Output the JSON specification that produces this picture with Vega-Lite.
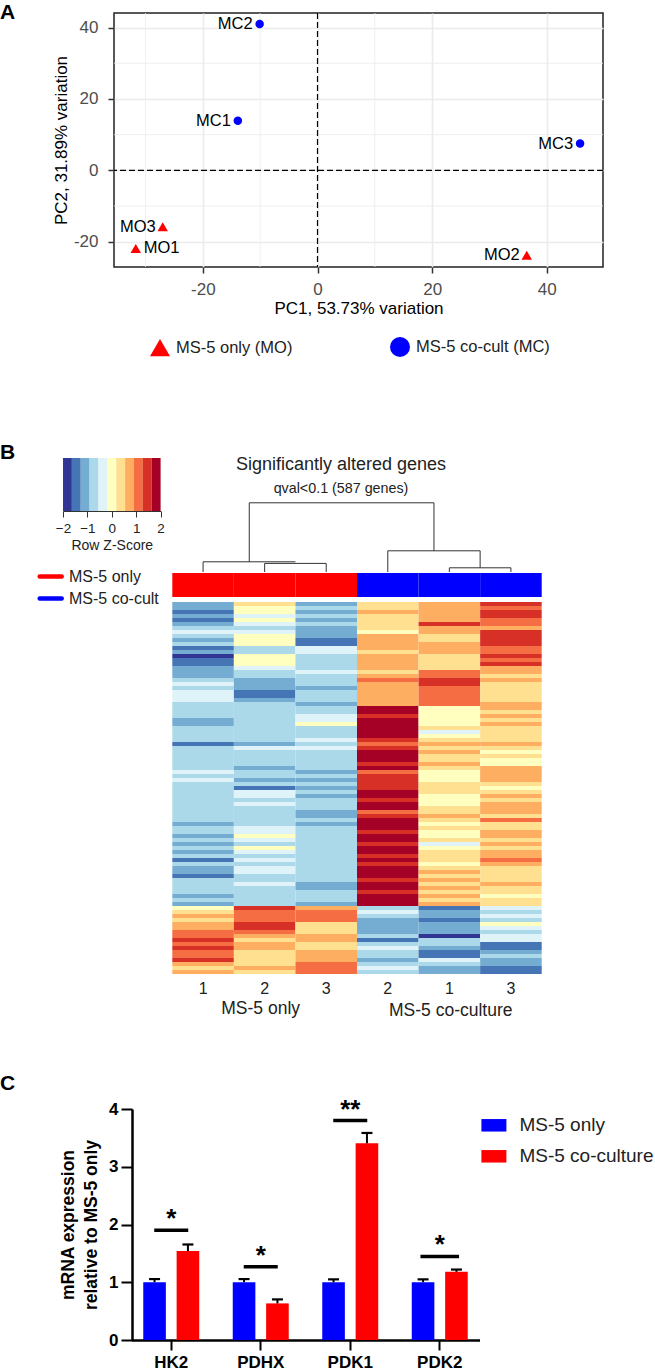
{
"$schema":"https://vega.github.io/schema/vega-lite/v6.json",
"padding":0,
"config":{"view":{"stroke":null},"font":"Liberation Sans","text":{"font":"Liberation Sans"}},
"datasets":{
"pca":[{"id":"MC2","pc1":-10.1,"pc2":41,"group":"MS-5 co-cult (MC)"},{"id":"MC1","pc1":-13.9,"pc2":13.9,"group":"MS-5 co-cult (MC)"},{"id":"MC3","pc1":45.8,"pc2":7.5,"group":"MS-5 co-cult (MC)"},{"id":"MO3","pc1":-27,"pc2":-15.8,"group":"MS-5 only (MO)"},{"id":"MO1","pc1":-31.7,"pc2":-21.9,"group":"MS-5 only (MO)"},{"id":"MO2","pc1":36.5,"pc2":-23.8,"group":"MS-5 only (MO)"}],
"minor":[{"gx":-30,"gy":-10},{"gx":-10,"gy":10},{"gx":10,"gy":30}],
"scale":[{"lo":-2,"hi":-1.636,"z":-1.8},{"lo":-1.636,"hi":-1.273,"z":-1.45},{"lo":-1.273,"hi":-0.909,"z":-1.1},{"lo":-0.909,"hi":-0.545,"z":-0.73},{"lo":-0.545,"hi":-0.182,"z":-0.36},{"lo":-0.182,"hi":0.182,"z":0},{"lo":0.182,"hi":0.545,"z":0.36},{"lo":0.545,"hi":0.909,"z":0.73},{"lo":0.909,"hi":1.273,"z":1.1},{"lo":1.273,"hi":1.636,"z":1.45},{"lo":1.636,"hi":2,"z":1.8}],
"dendro":[{"x":1.25,"x2":4.25,"y":69.2,"y2":69.2},{"x":1.25,"x2":1.25,"y":69.2,"y2":10.2},{"x":0.5,"x2":2,"y":10.2,"y2":10.2},{"x":0.5,"x2":0.5,"y":10.2,"y2":0},{"x":1.5,"x2":2.5,"y":8.6,"y2":8.6},{"x":1.5,"x2":1.5,"y":8.6,"y2":0},{"x":2.5,"x2":2.5,"y":8.6,"y2":0},{"x":4.25,"x2":4.25,"y":69.2,"y2":21.2},{"x":3.5,"x2":5,"y":21.2,"y2":21.2},{"x":3.5,"x2":3.5,"y":21.2,"y2":0},{"x":5,"x2":5,"y":21.2,"y2":4.2},{"x":4.5,"x2":5.5,"y":4.2,"y2":4.2},{"x":4.5,"x2":4.5,"y":4.2,"y2":0},{"x":5.5,"x2":5.5,"y":4.2,"y2":0}],
"annot":[{"s":"MO1","c":"MS-5 only"},{"s":"MO2","c":"MS-5 only"},{"s":"MO3","c":"MS-5 only"},{"s":"MC2","c":"MS-5 co-cult"},{"s":"MC1","c":"MS-5 co-cult"},{"s":"MC3","c":"MS-5 co-cult"}],
"heat":[
{"g":0,"s":"MO1","z":-1.1},{"g":1,"s":"MO1","z":-1.1},{"g":2,"s":"MO1","z":-1.4},{"g":3,"s":"MO1","z":-1.1},{"g":4,"s":"MO1","z":-1.4},{"g":5,"s":"MO1","z":-1.1},{"g":6,"s":"MO1","z":-0.7},{"g":7,"s":"MO1","z":-0.4},{"g":8,"s":"MO1","z":-0.7},{"g":9,"s":"MO1","z":-1.1},{"g":10,"s":"MO1","z":-0.7},{"g":11,"s":"MO1","z":-1.4},{"g":12,"s":"MO1","z":-1.1},{"g":13,"s":"MO1","z":-1.8},{"g":14,"s":"MO1","z":-1.4},{"g":15,"s":"MO1","z":-1.4},{"g":16,"s":"MO1","z":-1.1},{"g":17,"s":"MO1","z":-1.1},{"g":18,"s":"MO1","z":-1.1},{"g":19,"s":"MO1","z":-0.7},{"g":20,"s":"MO1","z":-0.4},{"g":21,"s":"MO1","z":-0.7},{"g":22,"s":"MO1","z":-0.4},{"g":23,"s":"MO1","z":-0.4},{"g":24,"s":"MO1","z":-0.4},{"g":25,"s":"MO1","z":-0.7},
{"g":26,"s":"MO1","z":-0.7},{"g":27,"s":"MO1","z":-0.7},{"g":28,"s":"MO1","z":-0.7},{"g":29,"s":"MO1","z":-1.1},{"g":30,"s":"MO1","z":-1.1},{"g":31,"s":"MO1","z":-0.7},{"g":32,"s":"MO1","z":-0.7},{"g":33,"s":"MO1","z":-0.7},{"g":34,"s":"MO1","z":-0.7},{"g":35,"s":"MO1","z":-1.4},{"g":36,"s":"MO1","z":-0.7},{"g":37,"s":"MO1","z":-0.7},{"g":38,"s":"MO1","z":-0.7},{"g":39,"s":"MO1","z":-0.7},{"g":40,"s":"MO1","z":-0.7},{"g":41,"s":"MO1","z":-0.7},{"g":42,"s":"MO1","z":-0.4},{"g":43,"s":"MO1","z":-0.7},{"g":44,"s":"MO1","z":-0.4},{"g":45,"s":"MO1","z":-0.7},{"g":46,"s":"MO1","z":-0.7},{"g":47,"s":"MO1","z":-0.7},{"g":48,"s":"MO1","z":-0.7},{"g":49,"s":"MO1","z":-0.7},{"g":50,"s":"MO1","z":-0.7},{"g":51,"s":"MO1","z":-0.7},{"g":52,"s":"MO1","z":-0.7},{"g":53,"s":"MO1","z":-0.7},{"g":54,"s":"MO1","z":-0.7},{"g":55,"s":"MO1","z":-1.1},{"g":56,"s":"MO1","z":-0.7},{"g":57,"s":"MO1","z":-0.7},{"g":58,"s":"MO1","z":-1.1},{"g":59,"s":"MO1","z":-0.7},{"g":60,"s":"MO1","z":-1.1},{"g":61,"s":"MO1","z":-0.7},{"g":62,"s":"MO1","z":-1.1},{"g":63,"s":"MO1","z":-0.7},{"g":64,"s":"MO1","z":-1.4},{"g":65,"s":"MO1","z":-0.7},{"g":66,"s":"MO1","z":-1.1},{"g":67,"s":"MO1","z":-1.1},{"g":68,"s":"MO1","z":-1.4},{"g":69,"s":"MO1","z":-0.7},{"g":70,"s":"MO1","z":-0.7},{"g":71,"s":"MO1","z":-0.7},{"g":72,"s":"MO1","z":-0.7},{"g":73,"s":"MO1","z":-1.1},{"g":74,"s":"MO1","z":-0.7},{"g":75,"s":"MO1","z":-1.1},
{"g":76,"s":"MO1","z":0},{"g":77,"s":"MO1","z":0.4},{"g":78,"s":"MO1","z":0.7},{"g":79,"s":"MO1","z":0.4},{"g":80,"s":"MO1","z":0.7},{"g":81,"s":"MO1","z":0.7},{"g":82,"s":"MO1","z":1.1},{"g":83,"s":"MO1","z":1.1},{"g":84,"s":"MO1","z":1.4},{"g":85,"s":"MO1","z":1.1},{"g":86,"s":"MO1","z":1.4},{"g":87,"s":"MO1","z":1.1},{"g":88,"s":"MO1","z":1.1},{"g":89,"s":"MO1","z":1.4},{"g":90,"s":"MO1","z":0.7},{"g":91,"s":"MO1","z":0.4},{"g":92,"s":"MO1","z":0.7},
{"g":0,"s":"MO2","z":0.4},{"g":1,"s":"MO2","z":0},{"g":2,"s":"MO2","z":0},{"g":3,"s":"MO2","z":-0.4},{"g":4,"s":"MO2","z":0},{"g":5,"s":"MO2","z":-0.4},{"g":6,"s":"MO2","z":-0.7},{"g":7,"s":"MO2","z":-0.4},{"g":8,"s":"MO2","z":0},{"g":9,"s":"MO2","z":0},{"g":10,"s":"MO2","z":0},{"g":11,"s":"MO2","z":-0.7},{"g":12,"s":"MO2","z":-0.7},{"g":13,"s":"MO2","z":0},{"g":14,"s":"MO2","z":0},{"g":15,"s":"MO2","z":0},{"g":16,"s":"MO2","z":-0.4},{"g":17,"s":"MO2","z":-0.7},{"g":18,"s":"MO2","z":-0.7},{"g":19,"s":"MO2","z":-1.1},{"g":20,"s":"MO2","z":-1.1},{"g":21,"s":"MO2","z":-1.1},{"g":22,"s":"MO2","z":-1.4},{"g":23,"s":"MO2","z":-1.4},{"g":24,"s":"MO2","z":-1.1},{"g":25,"s":"MO2","z":-0.7},
{"g":26,"s":"MO2","z":-0.7},{"g":27,"s":"MO2","z":-0.7},{"g":28,"s":"MO2","z":-0.7},{"g":29,"s":"MO2","z":-0.7},{"g":30,"s":"MO2","z":-0.7},{"g":31,"s":"MO2","z":-0.7},{"g":32,"s":"MO2","z":-0.7},{"g":33,"s":"MO2","z":-0.7},{"g":34,"s":"MO2","z":-0.7},{"g":35,"s":"MO2","z":-1.1},{"g":36,"s":"MO2","z":-0.4},{"g":37,"s":"MO2","z":-0.7},{"g":38,"s":"MO2","z":-0.7},{"g":39,"s":"MO2","z":-0.7},{"g":40,"s":"MO2","z":-0.7},{"g":41,"s":"MO2","z":-1.1},{"g":42,"s":"MO2","z":-0.7},{"g":43,"s":"MO2","z":-0.7},{"g":44,"s":"MO2","z":-1.1},{"g":45,"s":"MO2","z":-0.7},{"g":46,"s":"MO2","z":-1.4},{"g":47,"s":"MO2","z":-0.4},{"g":48,"s":"MO2","z":-0.4},{"g":49,"s":"MO2","z":-0.7},{"g":50,"s":"MO2","z":-0.4},{"g":51,"s":"MO2","z":-0.7},{"g":52,"s":"MO2","z":-0.7},{"g":53,"s":"MO2","z":-0.7},{"g":54,"s":"MO2","z":-0.7},{"g":55,"s":"MO2","z":-0.7},{"g":56,"s":"MO2","z":-0.4},{"g":57,"s":"MO2","z":-0.4},{"g":58,"s":"MO2","z":0},{"g":59,"s":"MO2","z":-0.4},{"g":60,"s":"MO2","z":-0.7},{"g":61,"s":"MO2","z":0},{"g":62,"s":"MO2","z":-0.4},{"g":63,"s":"MO2","z":-0.7},{"g":64,"s":"MO2","z":-0.4},{"g":65,"s":"MO2","z":-0.7},{"g":66,"s":"MO2","z":-0.4},{"g":67,"s":"MO2","z":-0.4},{"g":68,"s":"MO2","z":-0.7},{"g":69,"s":"MO2","z":-0.7},{"g":70,"s":"MO2","z":-0.4},{"g":71,"s":"MO2","z":-0.7},{"g":72,"s":"MO2","z":-0.7},{"g":73,"s":"MO2","z":-0.7},{"g":74,"s":"MO2","z":-0.7},{"g":75,"s":"MO2","z":-0.7},
{"g":76,"s":"MO2","z":1.4},{"g":77,"s":"MO2","z":1.1},{"g":78,"s":"MO2","z":1.1},{"g":79,"s":"MO2","z":1.1},{"g":80,"s":"MO2","z":1.4},{"g":81,"s":"MO2","z":1.4},{"g":82,"s":"MO2","z":1.1},{"g":83,"s":"MO2","z":0.7},{"g":84,"s":"MO2","z":0.4},{"g":85,"s":"MO2","z":0.7},{"g":86,"s":"MO2","z":0.7},{"g":87,"s":"MO2","z":0.4},{"g":88,"s":"MO2","z":0.4},{"g":89,"s":"MO2","z":0.4},{"g":90,"s":"MO2","z":0.4},{"g":91,"s":"MO2","z":0.7},{"g":92,"s":"MO2","z":0.4},
{"g":0,"s":"MO3","z":-1.1},{"g":1,"s":"MO3","z":-0.7},{"g":2,"s":"MO3","z":-1.1},{"g":3,"s":"MO3","z":-0.7},{"g":4,"s":"MO3","z":-1.1},{"g":5,"s":"MO3","z":-0.7},{"g":6,"s":"MO3","z":-1.1},{"g":7,"s":"MO3","z":-1.1},{"g":8,"s":"MO3","z":-1.1},{"g":9,"s":"MO3","z":-1.4},{"g":10,"s":"MO3","z":-1.4},{"g":11,"s":"MO3","z":-0.4},{"g":12,"s":"MO3","z":-0.4},{"g":13,"s":"MO3","z":-0.7},{"g":14,"s":"MO3","z":-0.7},{"g":15,"s":"MO3","z":-0.7},{"g":16,"s":"MO3","z":-0.7},{"g":17,"s":"MO3","z":-0.4},{"g":18,"s":"MO3","z":-0.7},{"g":19,"s":"MO3","z":-0.7},{"g":20,"s":"MO3","z":-0.7},{"g":21,"s":"MO3","z":-1.1},{"g":22,"s":"MO3","z":-0.7},{"g":23,"s":"MO3","z":-0.7},{"g":24,"s":"MO3","z":-0.7},{"g":25,"s":"MO3","z":-1.1},
{"g":26,"s":"MO3","z":-0.7},{"g":27,"s":"MO3","z":-0.7},{"g":28,"s":"MO3","z":-0.4},{"g":29,"s":"MO3","z":-0.4},{"g":30,"s":"MO3","z":0},{"g":31,"s":"MO3","z":-0.7},{"g":32,"s":"MO3","z":-0.7},{"g":33,"s":"MO3","z":-0.7},{"g":34,"s":"MO3","z":-0.4},{"g":35,"s":"MO3","z":-0.7},{"g":36,"s":"MO3","z":-0.4},{"g":37,"s":"MO3","z":-0.7},{"g":38,"s":"MO3","z":-0.7},{"g":39,"s":"MO3","z":-0.7},{"g":40,"s":"MO3","z":-0.7},{"g":41,"s":"MO3","z":-0.7},{"g":42,"s":"MO3","z":-1.1},{"g":43,"s":"MO3","z":-0.7},{"g":44,"s":"MO3","z":-1.1},{"g":45,"s":"MO3","z":-0.7},{"g":46,"s":"MO3","z":-1.1},{"g":47,"s":"MO3","z":-0.7},{"g":48,"s":"MO3","z":-1.1},{"g":49,"s":"MO3","z":-0.7},{"g":50,"s":"MO3","z":-0.7},{"g":51,"s":"MO3","z":-0.7},{"g":52,"s":"MO3","z":-1.1},{"g":53,"s":"MO3","z":-1.1},{"g":54,"s":"MO3","z":-0.7},{"g":55,"s":"MO3","z":-1.1},{"g":56,"s":"MO3","z":-0.7},{"g":57,"s":"MO3","z":-0.7},{"g":58,"s":"MO3","z":-0.7},{"g":59,"s":"MO3","z":-0.7},{"g":60,"s":"MO3","z":-0.7},{"g":61,"s":"MO3","z":-0.7},{"g":62,"s":"MO3","z":-0.7},{"g":63,"s":"MO3","z":-0.7},{"g":64,"s":"MO3","z":-0.7},{"g":65,"s":"MO3","z":-0.7},{"g":66,"s":"MO3","z":-0.7},{"g":67,"s":"MO3","z":-0.7},{"g":68,"s":"MO3","z":-0.7},{"g":69,"s":"MO3","z":-0.7},{"g":70,"s":"MO3","z":-1.1},{"g":71,"s":"MO3","z":-1.1},{"g":72,"s":"MO3","z":-0.7},{"g":73,"s":"MO3","z":-0.7},{"g":74,"s":"MO3","z":-0.7},{"g":75,"s":"MO3","z":-1.1},
{"g":76,"s":"MO3","z":0.7},{"g":77,"s":"MO3","z":1.1},{"g":78,"s":"MO3","z":1.1},{"g":79,"s":"MO3","z":1.1},{"g":80,"s":"MO3","z":0.4},{"g":81,"s":"MO3","z":0.4},{"g":82,"s":"MO3","z":0.4},{"g":83,"s":"MO3","z":0.7},{"g":84,"s":"MO3","z":0.7},{"g":85,"s":"MO3","z":0.4},{"g":86,"s":"MO3","z":0.4},{"g":87,"s":"MO3","z":0.7},{"g":88,"s":"MO3","z":0.7},{"g":89,"s":"MO3","z":0.7},{"g":90,"s":"MO3","z":1.1},{"g":91,"s":"MO3","z":1.1},{"g":92,"s":"MO3","z":1.1},
{"g":0,"s":"MC2","z":0.4},{"g":1,"s":"MC2","z":0.4},{"g":2,"s":"MC2","z":0.7},{"g":3,"s":"MC2","z":0.4},{"g":4,"s":"MC2","z":0.4},{"g":5,"s":"MC2","z":0.4},{"g":6,"s":"MC2","z":0.4},{"g":7,"s":"MC2","z":0},{"g":8,"s":"MC2","z":0.7},{"g":9,"s":"MC2","z":0.7},{"g":10,"s":"MC2","z":0.7},{"g":11,"s":"MC2","z":0.7},{"g":12,"s":"MC2","z":0.4},{"g":13,"s":"MC2","z":0.7},{"g":14,"s":"MC2","z":0.7},{"g":15,"s":"MC2","z":0.7},{"g":16,"s":"MC2","z":0.7},{"g":17,"s":"MC2","z":0.4},{"g":18,"s":"MC2","z":0.7},{"g":19,"s":"MC2","z":1.1},{"g":20,"s":"MC2","z":0.7},{"g":21,"s":"MC2","z":0.7},{"g":22,"s":"MC2","z":0.7},{"g":23,"s":"MC2","z":0.7},{"g":24,"s":"MC2","z":0.7},{"g":25,"s":"MC2","z":0.7},
{"g":26,"s":"MC2","z":1.8},{"g":27,"s":"MC2","z":1.8},{"g":28,"s":"MC2","z":1.4},{"g":29,"s":"MC2","z":1.8},{"g":30,"s":"MC2","z":1.8},{"g":31,"s":"MC2","z":1.8},{"g":32,"s":"MC2","z":1.8},{"g":33,"s":"MC2","z":1.8},{"g":34,"s":"MC2","z":1.4},{"g":35,"s":"MC2","z":1.1},{"g":36,"s":"MC2","z":1.4},{"g":37,"s":"MC2","z":1.8},{"g":38,"s":"MC2","z":1.8},{"g":39,"s":"MC2","z":1.8},{"g":40,"s":"MC2","z":1.4},{"g":41,"s":"MC2","z":1.8},{"g":42,"s":"MC2","z":1.1},{"g":43,"s":"MC2","z":1.4},{"g":44,"s":"MC2","z":1.4},{"g":45,"s":"MC2","z":1.4},{"g":46,"s":"MC2","z":1.4},{"g":47,"s":"MC2","z":1.8},{"g":48,"s":"MC2","z":1.8},{"g":49,"s":"MC2","z":1.4},{"g":50,"s":"MC2","z":1.8},{"g":51,"s":"MC2","z":1.8},{"g":52,"s":"MC2","z":1.1},{"g":53,"s":"MC2","z":1.4},{"g":54,"s":"MC2","z":1.8},{"g":55,"s":"MC2","z":1.8},{"g":56,"s":"MC2","z":1.8},{"g":57,"s":"MC2","z":1.4},{"g":58,"s":"MC2","z":1.8},{"g":59,"s":"MC2","z":1.8},{"g":60,"s":"MC2","z":1.4},{"g":61,"s":"MC2","z":1.8},{"g":62,"s":"MC2","z":1.8},{"g":63,"s":"MC2","z":1.4},{"g":64,"s":"MC2","z":1.8},{"g":65,"s":"MC2","z":1.4},{"g":66,"s":"MC2","z":1.8},{"g":67,"s":"MC2","z":1.8},{"g":68,"s":"MC2","z":1.8},{"g":69,"s":"MC2","z":1.4},{"g":70,"s":"MC2","z":1.8},{"g":71,"s":"MC2","z":1.8},{"g":72,"s":"MC2","z":1.4},{"g":73,"s":"MC2","z":1.8},{"g":74,"s":"MC2","z":1.8},{"g":75,"s":"MC2","z":1.8},
{"g":76,"s":"MC2","z":-0.7},{"g":77,"s":"MC2","z":-0.4},{"g":78,"s":"MC2","z":-0.7},{"g":79,"s":"MC2","z":-1.1},{"g":80,"s":"MC2","z":-1.1},{"g":81,"s":"MC2","z":-1.1},{"g":82,"s":"MC2","z":-1.1},{"g":83,"s":"MC2","z":-0.7},{"g":84,"s":"MC2","z":-1.4},{"g":85,"s":"MC2","z":-0.7},{"g":86,"s":"MC2","z":-0.4},{"g":87,"s":"MC2","z":-0.7},{"g":88,"s":"MC2","z":-0.7},{"g":89,"s":"MC2","z":-1.1},{"g":90,"s":"MC2","z":-0.7},{"g":91,"s":"MC2","z":-0.4},{"g":92,"s":"MC2","z":-0.7},
{"g":0,"s":"MC1","z":0.7},{"g":1,"s":"MC1","z":0.7},{"g":2,"s":"MC1","z":0.7},{"g":3,"s":"MC1","z":0.7},{"g":4,"s":"MC1","z":0.7},{"g":5,"s":"MC1","z":1.4},{"g":6,"s":"MC1","z":0.7},{"g":7,"s":"MC1","z":0.7},{"g":8,"s":"MC1","z":0.4},{"g":9,"s":"MC1","z":0.4},{"g":10,"s":"MC1","z":0.7},{"g":11,"s":"MC1","z":0.7},{"g":12,"s":"MC1","z":0.7},{"g":13,"s":"MC1","z":0.4},{"g":14,"s":"MC1","z":0.4},{"g":15,"s":"MC1","z":0.4},{"g":16,"s":"MC1","z":0.4},{"g":17,"s":"MC1","z":1.1},{"g":18,"s":"MC1","z":1.1},{"g":19,"s":"MC1","z":1.4},{"g":20,"s":"MC1","z":1.4},{"g":21,"s":"MC1","z":1.1},{"g":22,"s":"MC1","z":1.1},{"g":23,"s":"MC1","z":1.1},{"g":24,"s":"MC1","z":1.1},{"g":25,"s":"MC1","z":1.1},
{"g":26,"s":"MC1","z":0},{"g":27,"s":"MC1","z":0},{"g":28,"s":"MC1","z":0},{"g":29,"s":"MC1","z":0},{"g":30,"s":"MC1","z":0},{"g":31,"s":"MC1","z":0.4},{"g":32,"s":"MC1","z":-0.4},{"g":33,"s":"MC1","z":0},{"g":34,"s":"MC1","z":0.4},{"g":35,"s":"MC1","z":0.7},{"g":36,"s":"MC1","z":0.4},{"g":37,"s":"MC1","z":0.7},{"g":38,"s":"MC1","z":0.4},{"g":39,"s":"MC1","z":0.4},{"g":40,"s":"MC1","z":0.7},{"g":41,"s":"MC1","z":0.4},{"g":42,"s":"MC1","z":0},{"g":43,"s":"MC1","z":0},{"g":44,"s":"MC1","z":0},{"g":45,"s":"MC1","z":0.4},{"g":46,"s":"MC1","z":0.4},{"g":47,"s":"MC1","z":0.4},{"g":48,"s":"MC1","z":0},{"g":49,"s":"MC1","z":0},{"g":50,"s":"MC1","z":0},{"g":51,"s":"MC1","z":0.4},{"g":52,"s":"MC1","z":0.4},{"g":53,"s":"MC1","z":0.7},{"g":54,"s":"MC1","z":0.4},{"g":55,"s":"MC1","z":0},{"g":56,"s":"MC1","z":0.4},{"g":57,"s":"MC1","z":0},{"g":58,"s":"MC1","z":0},{"g":59,"s":"MC1","z":0.4},{"g":60,"s":"MC1","z":-0.4},{"g":61,"s":"MC1","z":0},{"g":62,"s":"MC1","z":0.4},{"g":63,"s":"MC1","z":0.4},{"g":64,"s":"MC1","z":0.4},{"g":65,"s":"MC1","z":0},{"g":66,"s":"MC1","z":0.4},{"g":67,"s":"MC1","z":0.7},{"g":68,"s":"MC1","z":0.4},{"g":69,"s":"MC1","z":0.7},{"g":70,"s":"MC1","z":0.4},{"g":71,"s":"MC1","z":0.7},{"g":72,"s":"MC1","z":0.4},{"g":73,"s":"MC1","z":0.7},{"g":74,"s":"MC1","z":0.4},{"g":75,"s":"MC1","z":0.7},
{"g":76,"s":"MC1","z":-1.4},{"g":77,"s":"MC1","z":-1.1},{"g":78,"s":"MC1","z":-1.1},{"g":79,"s":"MC1","z":-1.4},{"g":80,"s":"MC1","z":-1.1},{"g":81,"s":"MC1","z":-1.1},{"g":82,"s":"MC1","z":-1.1},{"g":83,"s":"MC1","z":-1.8},{"g":84,"s":"MC1","z":-0.7},{"g":85,"s":"MC1","z":-0.7},{"g":86,"s":"MC1","z":-1.1},{"g":87,"s":"MC1","z":-1.4},{"g":88,"s":"MC1","z":-1.4},{"g":89,"s":"MC1","z":-0.4},{"g":90,"s":"MC1","z":-0.7},{"g":91,"s":"MC1","z":-1.1},{"g":92,"s":"MC1","z":-1.1},
{"g":0,"s":"MC3","z":1.4},{"g":1,"s":"MC3","z":1.1},{"g":2,"s":"MC3","z":1.4},{"g":3,"s":"MC3","z":1.4},{"g":4,"s":"MC3","z":1.1},{"g":5,"s":"MC3","z":1.1},{"g":6,"s":"MC3","z":0.7},{"g":7,"s":"MC3","z":1.4},{"g":8,"s":"MC3","z":1.4},{"g":9,"s":"MC3","z":1.4},{"g":10,"s":"MC3","z":1.4},{"g":11,"s":"MC3","z":1.1},{"g":12,"s":"MC3","z":1.1},{"g":13,"s":"MC3","z":1.4},{"g":14,"s":"MC3","z":1.1},{"g":15,"s":"MC3","z":1.4},{"g":16,"s":"MC3","z":0.7},{"g":17,"s":"MC3","z":0.7},{"g":18,"s":"MC3","z":0.4},{"g":19,"s":"MC3","z":0.7},{"g":20,"s":"MC3","z":0.4},{"g":21,"s":"MC3","z":0.4},{"g":22,"s":"MC3","z":0.4},{"g":23,"s":"MC3","z":0.4},{"g":24,"s":"MC3","z":0.4},{"g":25,"s":"MC3","z":0.7},
{"g":26,"s":"MC3","z":0.7},{"g":27,"s":"MC3","z":0.4},{"g":28,"s":"MC3","z":0.7},{"g":29,"s":"MC3","z":0.4},{"g":30,"s":"MC3","z":0.7},{"g":31,"s":"MC3","z":0.4},{"g":32,"s":"MC3","z":0.4},{"g":33,"s":"MC3","z":0.4},{"g":34,"s":"MC3","z":0.4},{"g":35,"s":"MC3","z":0.7},{"g":36,"s":"MC3","z":0.4},{"g":37,"s":"MC3","z":0},{"g":38,"s":"MC3","z":0.4},{"g":39,"s":"MC3","z":0},{"g":40,"s":"MC3","z":0},{"g":41,"s":"MC3","z":0.7},{"g":42,"s":"MC3","z":0.7},{"g":43,"s":"MC3","z":0.7},{"g":44,"s":"MC3","z":0.7},{"g":45,"s":"MC3","z":0.4},{"g":46,"s":"MC3","z":0},{"g":47,"s":"MC3","z":0.4},{"g":48,"s":"MC3","z":0.7},{"g":49,"s":"MC3","z":0.4},{"g":50,"s":"MC3","z":0.7},{"g":51,"s":"MC3","z":0.7},{"g":52,"s":"MC3","z":0.7},{"g":53,"s":"MC3","z":0.4},{"g":54,"s":"MC3","z":1.1},{"g":55,"s":"MC3","z":0.4},{"g":56,"s":"MC3","z":0.4},{"g":57,"s":"MC3","z":0.7},{"g":58,"s":"MC3","z":0.7},{"g":59,"s":"MC3","z":0.4},{"g":60,"s":"MC3","z":0.7},{"g":61,"s":"MC3","z":0.4},{"g":62,"s":"MC3","z":0.7},{"g":63,"s":"MC3","z":0.7},{"g":64,"s":"MC3","z":1.1},{"g":65,"s":"MC3","z":0.7},{"g":66,"s":"MC3","z":0.4},{"g":67,"s":"MC3","z":0.4},{"g":68,"s":"MC3","z":0.4},{"g":69,"s":"MC3","z":0.4},{"g":70,"s":"MC3","z":0.7},{"g":71,"s":"MC3","z":0.4},{"g":72,"s":"MC3","z":0.4},{"g":73,"s":"MC3","z":0},{"g":74,"s":"MC3","z":0.4},{"g":75,"s":"MC3","z":0.4},
{"g":76,"s":"MC3","z":-0.4},{"g":77,"s":"MC3","z":-0.7},{"g":78,"s":"MC3","z":-0.4},{"g":79,"s":"MC3","z":-0.7},{"g":80,"s":"MC3","z":0},{"g":81,"s":"MC3","z":-0.4},{"g":82,"s":"MC3","z":-0.7},{"g":83,"s":"MC3","z":-0.4},{"g":84,"s":"MC3","z":-0.4},{"g":85,"s":"MC3","z":-1.4},{"g":86,"s":"MC3","z":-1.4},{"g":87,"s":"MC3","z":-1.1},{"g":88,"s":"MC3","z":-0.7},{"g":89,"s":"MC3","z":-1.1},{"g":90,"s":"MC3","z":-1.1},{"g":91,"s":"MC3","z":-1.4},{"g":92,"s":"MC3","z":-1.4}
],
"grp":[{"g":92,"s":"MO2","t":"MS-5 only"},{"g":92,"s":"MC1","t":"MS-5 co-culture"}],
"bars":[{"gene":"HK2","cond":"MS-5 only","v":1,"top":1.055},{"gene":"HK2","cond":"MS-5 co-culture","v":1.54,"top":1.654},{"gene":"PDHX","cond":"MS-5 only","v":1,"top":1.055},{"gene":"PDHX","cond":"MS-5 co-culture","v":0.634,"top":0.703},{"gene":"PDK1","cond":"MS-5 only","v":1,"top":1.05},{"gene":"PDK1","cond":"MS-5 co-culture","v":3.406,"top":3.585},{"gene":"PDK2","cond":"MS-5 only","v":1,"top":1.05},{"gene":"PDK2","cond":"MS-5 co-culture","v":1.18,"top":1.22}],
"sig":[{"gene":"HK2","lvl":1.9,"star":"*"},{"gene":"PDHX","lvl":1.268,"star":"*"},{"gene":"PDK1","lvl":3.8,"star":"**"},{"gene":"PDK2","lvl":1.447,"star":"*"}]
},
"data":{"values":[]},
"columns":2,"align":"each","bounds":"flush","spacing":0,
"concat":[
{"width":51,"height":13,"data":{"values":[{"t":"A"}]},"mark":{"type":"text","align":"left","baseline":"alphabetic","dx":-88.5,"dy":12.5,"fontSize":21,"fontWeight":"bold","color":"#000000"},"encoding":{"text":{"field":"t"}}},{"width":489,"height":13,"mark":"text"},

{"width":51,"height":0,"mark":"text"},
{"width":489,"height":254,"view":{"stroke":"#222222","strokeWidth":1.5},
 "layer":[
 {"data":{"name":"minor"},"mark":{"type":"rule","color":"#ebebeb","strokeWidth":0.8},"encoding":{"x":{"field":"gx","type":"quantitative"}}},
 {"data":{"name":"minor"},"mark":{"type":"rule","color":"#ebebeb","strokeWidth":0.8},"encoding":{"y":{"field":"gy","type":"quantitative"}}},
 {"data":{"values":[{"z":0}]},"mark":{"type":"rule","color":"#000000","strokeDash":[6,3],"strokeWidth":1.2},"encoding":{"x":{"field":"z","type":"quantitative"}}},
 {"data":{"values":[{"z":0}]},"mark":{"type":"rule","color":"#000000","strokeDash":[6,3],"strokeWidth":1.2},"encoding":{"y":{"field":"z","type":"quantitative"}}},
 {"data":{"name":"pca"},"mark":{"type":"point","filled":true,"opacity":1},
  "encoding":{"x":{"field":"pc1","type":"quantitative","scale":{"domain":[-35.5,49.8],"nice":false,"zero":false},"axis":{"values":[-20,0,20,40],"labelExpr":"replace(format(datum.value,'d'),'\u2212','-')","title":"PC1, 53.73% variation","titleFontSize":17,"titleFontWeight":"normal","titleColor":"#000000","titlePadding":3,"labelFontSize":17,"labelColor":"#4d4d4d","labelPadding":8,"tickColor":"#333333","tickSize":6,"tickWidth":1.5,"domain":false,"gridColor":"#ebebeb","gridWidth":1.6}},
  "y":{"field":"pc2","type":"quantitative","scale":{"domain":[-27.1,44.1],"nice":false,"zero":false},"axis":{"values":[-20,0,20,40],"labelExpr":"replace(format(datum.value,'d'),'\u2212','-')","title":"PC2, 31.89% variation","titleFontSize":17,"titleFontWeight":"normal","titleColor":"#000000","titlePadding":3,"labelFontSize":17,"labelColor":"#4d4d4d","labelPadding":10,"tickColor":"#333333","tickSize":6,"tickWidth":1.5,"domain":false,"gridColor":"#ebebeb","gridWidth":1.6}},
  "size":{"condition":{"test":"datum.group==='MS-5 only (MO)'","value":110},"value":72},
  "color":{"field":"group","type":"nominal","scale":{"domain":["MS-5 only (MO)","MS-5 co-cult (MC)"],"range":["#ff0000","#0000ff"]},"legend":null},
  "shape":{"field":"group","type":"nominal","scale":{"domain":["MS-5 only (MO)","MS-5 co-cult (MC)"],"range":["triangle-up","circle"]},"legend":{"title":null,"orient":"none","legendX":87,"legendY":337,"direction":"horizontal","columns":2,"columnPadding":97,"symbolSize":400,"labelOffset":6,"labelFontSize":16.5,"labelColor":"#222222","padding":0,"labelLimit":200,"encoding":{"symbols":{"fill":{"value":{"expr":"datum.value==='MS-5 only (MO)'?'#ff0000':'#0000ff'"}},"fillOpacity":{"value":1},"strokeWidth":{"value":0}}}}}}},
 {"data":{"name":"pca"},"transform":[{"filter":"datum.id!='MO1'"}],"mark":{"type":"text","align":"right","dx":-7,"fontSize":16.5,"baseline":"middle"},"encoding":{"x":{"field":"pc1","type":"quantitative"},"y":{"field":"pc2","type":"quantitative"},"text":{"field":"id"}}},
 {"data":{"name":"pca"},"transform":[{"filter":"datum.id=='MO1'"}],"mark":{"type":"text","align":"left","dx":8,"fontSize":16.5,"baseline":"middle"},"encoding":{"x":{"field":"pc1","type":"quantitative"},"y":{"field":"pc2","type":"quantitative"},"text":{"field":"id"}}}
 ]},

{"width":51,"height":191,"data":{"values":[{"t":"B"}]},"mark":{"type":"text","align":"left","baseline":"alphabetic","dx":-88.5,"dy":96.5,"fontSize":21,"fontWeight":"bold","color":"#000000"},"encoding":{"text":{"field":"t"}}},{"width":489,"height":191,"mark":"text"},

{"width":51,"height":53,
 "data":{"name":"scale"},"mark":{"type":"rect"},
 "encoding":{"x":{"field":"lo","type":"quantitative","scale":{"domain":[-2,2],"nice":false,"range":[0,97.6]},"axis":{"values":[-2,-1,0,1,2],"labelFlush":false,"title":"Row Z-Score","titleFontSize":14,"titleFontWeight":"normal","titleColor":"#222222","titlePadding":4,"labelFontSize":13.5,"labelColor":"#222222","tickColor":"#333333","tickSize":6,"domainColor":"#333333","grid":false,"labelPadding":4}},"x2":{"field":"hi"},
 "color":{"field":"z","type":"quantitative","scale":{"type":"quantize","domain":[-2,2],"range":["#313695","#4575b4","#74add1","#abd9e9","#e0f3f8","#ffffbf","#fee090","#fdae61","#f46d43","#d73027","#a50026"]},"legend":null}}},
{"width":489,"height":114,
 "layer":[
 {"data":{"name":"dendro"},"mark":{"type":"rule","color":"#333333","strokeWidth":1},"encoding":{"x":{"field":"x","type":"quantitative","scale":{"domain":[0,6],"nice":false,"range":[58.3,427.7]},"axis":null},"x2":{"field":"x2"},"y":{"field":"y","type":"quantitative","scale":{"domain":[0,114],"nice":false},"axis":null},"y2":{"field":"y2"}}},
 {"data":{"values":[{"x":2.74,"y":107,"t":"Significantly altered genes"}]},"mark":{"type":"text","fontSize":18,"color":"#222222"},"encoding":{"x":{"field":"x","type":"quantitative"},"y":{"field":"y","type":"quantitative"},"text":{"field":"t"}}},
 {"data":{"values":[{"x":2.74,"y":83,"t":"qval<0.1 (587 genes)"}]},"mark":{"type":"text","fontSize":14.3,"color":"#222222"},"encoding":{"x":{"field":"x","type":"quantitative"},"y":{"field":"y","type":"quantitative"},"text":{"field":"t"}}}
 ]},

{"width":51,"height":1,"mark":"text"},{"width":489,"height":1,"mark":"text"},

{"width":51,"height":0,"mark":"text"},
{"width":489,"height":24,"data":{"name":"annot"},"mark":"rect",
 "encoding":{"x":{"field":"s","type":"nominal","scale":{"domain":["MO1","MO2","MO3","MC2","MC1","MC3"],"range":[58.3,427.7],"paddingInner":0,"paddingOuter":0},"axis":null},
 "color":{"field":"c","type":"nominal","scale":{"domain":["MS-5 only","MS-5 co-cult"],"range":["#ff0000","#0000ff"]},"legend":{"title":null,"orient":"none","legendX":-75.8,"legendY":-9,"symbolType":"M-1.1,0H1.1","symbolSize":400,"symbolStrokeWidth":4.5,"rowPadding":-0.8,"labelOffset":5.8,"labelFontSize":16,"labelColor":"#222222","padding":0,"encode":{"symbols":{"update":{"stroke":{"signal":"datum.value==='MS-5 only'?'#ff0000':'#0000ff'"},"strokeCap":{"value":"round"}}}}}}}},

{"width":51,"height":5,"mark":"text"},{"width":489,"height":5,"mark":"text"},

{"width":51,"height":0,"mark":"text"},
{"width":489,"height":372,
 "layer":[
 {"data":{"name":"heat"},"mark":"rect","encoding":{"x":{"field":"s","type":"nominal","scale":{"domain":["MO1","MO2","MO3","MC2","MC1","MC3"],"range":[58.3,427.7],"paddingInner":0,"paddingOuter":0},"axis":{"title":null,"labelExpr":"substring(datum.value,2)","labelAngle":0,"labelFontSize":16,"labelColor":"#222222","ticks":false,"domain":false,"labelPadding":6}},
  "y":{"field":"g","type":"ordinal","scale":{"paddingInner":0,"paddingOuter":0},"axis":null},
  "color":{"field":"z","type":"quantitative","scale":{"type":"quantize","domain":[-2,2],"range":["#313695","#4575b4","#74add1","#abd9e9","#e0f3f8","#ffffbf","#fee090","#fdae61","#f46d43","#d73027","#a50026"]},"legend":null}}},
 {"data":{"name":"grp"},"transform":[{"filter":"datum.s=='MO2'"}],"mark":{"type":"text","fontSize":17.5,"dx":-4,"dy":37,"color":"#222222"},"encoding":{"x":{"field":"s","type":"nominal"},"y":{"field":"g","type":"ordinal"},"text":{"field":"t"}}},
 {"data":{"name":"grp"},"transform":[{"filter":"datum.s=='MC1'"}],"mark":{"type":"text","fontSize":17.5,"dx":1.4,"dy":39,"color":"#222222"},"encoding":{"x":{"field":"s","type":"nominal"},"y":{"field":"g","type":"ordinal"},"text":{"field":"t"}}}
 ]},

{"width":51,"height":135,"data":{"values":[{"t":"C"}]},"mark":{"type":"text","align":"left","baseline":"alphabetic","dx":-88.5,"dy":48.5,"fontSize":21,"fontWeight":"bold","color":"#000000"},"encoding":{"text":{"field":"t"}}},{"width":489,"height":135,"mark":"text"},

{"width":51,"height":0,"mark":"text"},
{"width":489,"height":231,
 "layer":[
 {"data":{"name":"bars"},"mark":{"type":"bar"},"encoding":{
  "x":{"field":"gene","type":"nominal","scale":{"range":[17.5,365.5],"paddingInner":0.112,"paddingOuter":0},"axis":{"title":null,"labelAngle":0,"labelFontSize":17,"labelFontWeight":"bold","labelColor":"#000000","tickColor":"#000000","tickSize":10,"tickWidth":2,"domainColor":"#000000","domainWidth":2.5,"labelPadding":4}},
  "xOffset":{"field":"cond","type":"nominal","sort":["MS-5 only","MS-5 co-culture"],"scale":{"paddingInner":0.323,"paddingOuter":0.352}},
  "y":{"field":"v","type":"quantitative","scale":{"domain":[0,4],"nice":false},"axis":{"offset":-18,"values":[0,1,2,3,4],"format":"d","title":["mRNA expression","relative to MS-5 only"],"titleFontSize":17.5,"titleFontWeight":"bold","titleColor":"#000000","titleLineHeight":22.7,"titlePadding":8,"labelFontSize":17,"labelFontWeight":"bold","labelColor":"#000000","tickColor":"#000000","tickSize":11,"tickWidth":2,"domainColor":"#000000","domainWidth":2.5,"grid":false,"labelPadding":3}},
  "color":{"field":"cond","type":"nominal","scale":{"domain":["MS-5 only","MS-5 co-culture"],"range":["#0000ff","#ff0000"]},"legend":{"title":null,"orient":"none","legendX":366.4,"legendY":2.8,"symbolType":"M-1,-0.5H1V0.5H-1Z","symbolSize":625,"rowPadding":7,"labelOffset":12,"labelFontSize":19,"labelColor":"#222222","padding":0,"labelLimit":200}}}},
 {"data":{"name":"bars"},"mark":{"type":"rule","color":"#000000","strokeWidth":2},"encoding":{"x":{"field":"gene","type":"nominal"},"xOffset":{"field":"cond","type":"nominal","sort":["MS-5 only","MS-5 co-culture"]},"y":{"field":"v","type":"quantitative"},"y2":{"field":"top"}}},
 {"data":{"name":"bars"},"mark":{"type":"point","shape":"stroke","size":121,"strokeWidth":2.2,"color":"#000000","opacity":1},"encoding":{"x":{"field":"gene","type":"nominal"},"xOffset":{"field":"cond","type":"nominal","sort":["MS-5 only","MS-5 co-culture"]},"y":{"field":"top","type":"quantitative"}}},
 {"data":{"name":"sig"},"mark":{"type":"point","shape":"stroke","strokeWidth":3.5,"color":"#000000","opacity":1},"encoding":{"x":{"field":"gene","type":"nominal"},"y":{"field":"lvl","type":"quantitative"},"size":{"condition":{"test":"datum.gene=='PDK2'","value":1490},"value":1156}}},
 {"data":{"name":"sig"},"mark":{"type":"text","fontSize":26,"fontWeight":"bold","baseline":"alphabetic","dy":-3,"color":"#000000"},"encoding":{"x":{"field":"gene","type":"nominal"},"y":{"field":"lvl","type":"quantitative"},"text":{"field":"star"}}}
 ]}
]
}
